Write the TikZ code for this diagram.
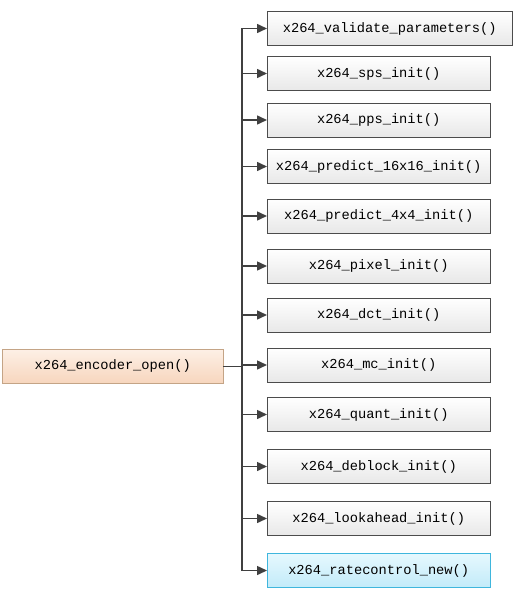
\documentclass[tikz,border=0pt]{standalone}
\usepackage{fontspec}
\newfontfamily\fnfont{Liberation Mono}
\usetikzlibrary{arrows.meta}
\definecolor{peachtop}{HTML}{FDF0E6}
\definecolor{peachbot}{HTML}{F7D6BE}
\definecolor{peachline}{HTML}{C4A486}
\definecolor{cyantop}{HTML}{E6F8FE}
\definecolor{cyanbot}{HTML}{C2EBF9}
\definecolor{cyanline}{HTML}{3FB6DD}
\definecolor{wire}{HTML}{404040}
\begin{document}
\begin{tikzpicture}[x=1pt,y=-1pt,
	fn/.style={draw=black!70, top color=white, bottom color=black!9, minimum width=223pt, minimum height=34pt, inner sep=0pt, anchor=west, font=\fnfont\fontsize{13.7}{15}\selectfont},
	caller/.style={fn, draw=peachline, top color=peachtop, bottom color=peachbot, minimum width=221pt},
	newfn/.style={fn, draw=cyanline, top color=cyantop, bottom color=cyanbot},
	arr/.style={draw=wire, line width=1.5pt, -{Triangle[length=10pt,width=9pt]}}]
	\useasboundingbox (0,0) rectangle (521,599);
	\node[caller] (open) at (2,366) {x264\_encoder\_open()};
	\node[fn, minimum width=245pt] (val) at (267,28.5) {x264\_validate\_parameters()};
	\coordinate (tval) at (242,28.5);
	\draw[arr] (tval) -- (val.west);
	\foreach \nm/\lbl/\yy in {sps/sps\_init/73.5, pps/pps\_init/120, pfour/predict\_16x16\_init/166.5,
		psmall/predict\_4x4\_init/216, pix/pixel\_init/266, dct/dct\_init/315, mc/mc\_init/365,
		quant/quant\_init/414.5, dbk/deblock\_init/466.5, look/lookahead\_init/518.5}{
		\node[fn] (\nm) at (267,\yy) {x264\_\lbl()};
		\coordinate (t\nm) at (242,\yy);
		\draw[arr] (t\nm) -- (\nm.west);
	}
	\node[newfn] (rc) at (267,570.5) {x264\_ratecontrol\_new()};
	\coordinate (trc) at (242,570.5);
	\draw[arr] (trc) -- (rc.west);
	\draw[wire, line width=1.5pt] (tval) -- (trc);
	\draw[wire, line width=0.8pt] (open.east) -- (open.east -| tval);
\end{tikzpicture}
\end{document}
